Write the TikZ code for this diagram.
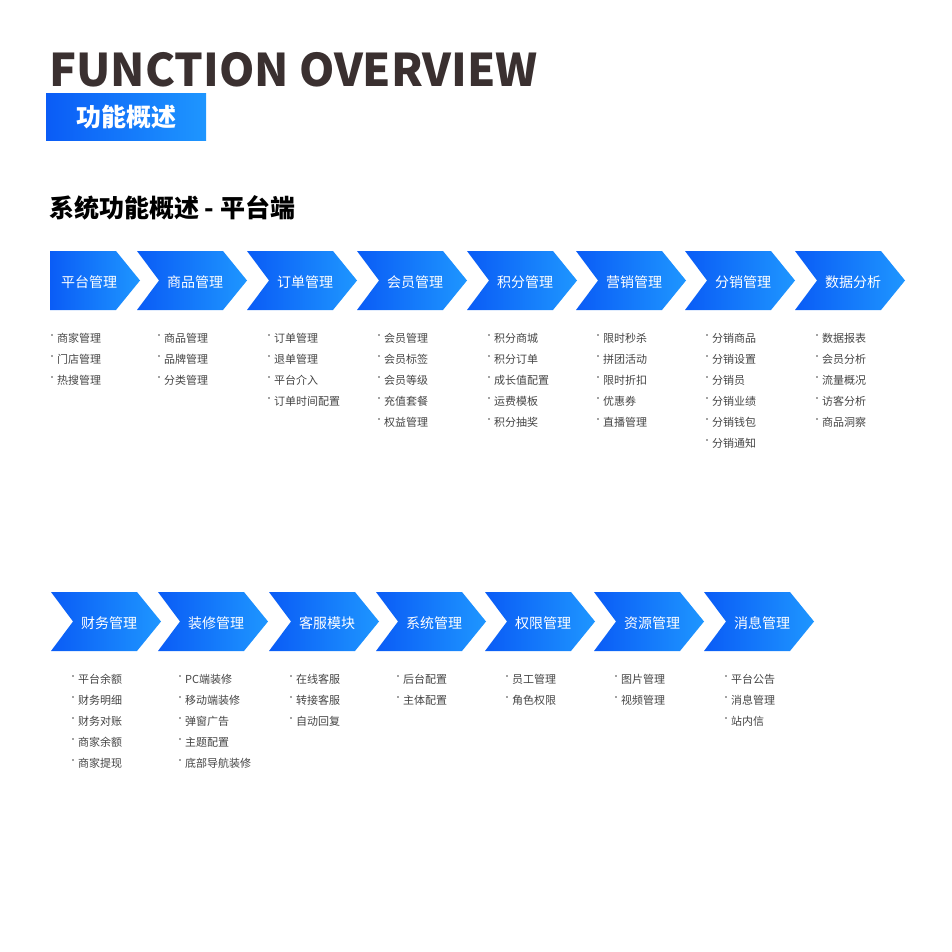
\documentclass[tikz,border=0pt]{standalone}
\usepackage{fontspec}
\setmainfont{Noto Sans CJK SC}
\usetikzlibrary{positioning}
\definecolor{chevdark}{HTML}{0A5CF6}
\definecolor{chevlight}{HTML}{1E96FF}
\definecolor{titlegray}{HTML}{3A3030}
\definecolor{itemgray}{HTML}{444444}
\tikzset{
  chev/.style={left color=chevdark, right color=chevlight, draw=none},
  chevlabel/.style={text=white, font=\fontsize{14}{14}\selectfont},
  item/.style={anchor=west, text=itemgray, inner sep=0pt, font=\fontsize{11}{11}\selectfont},
}
% chevron: #1 name, #2 left x, #3 top y, #4 label, list of items in #5
\newcommand{\chevbox}[5]{%
  \path[chev] (#2,#3) -- ++(86,0) -- ++(24,29.5) -- ++(-24,29.5) -- ++(-86,0) -- ++(22,-29.5) -- cycle;
  \node[chevlabel] (#1) at (#2+58,#3+31) {#4};
  \foreach \t [count=\i] in {#5} {
    \fill[itemgray] (#2+22,#3+63+21*\i) circle (0.9);
    \node[item] at (#2+27,#3+66.5+21*\i) {\t};
  }
}
\begin{document}
\begin{tikzpicture}[x=1pt,y=-1pt]
\useasboundingbox (0,0) rectangle (952,952);
% title
\node[anchor=base west, inner sep=0pt, text=titlegray, font=\fontsize{45}{45}\selectfont\bfseries] (title) at (49,87) {FUNCTION OVERVIEW};
\fill[left color=chevdark, right color=chevlight] (46,94) rectangle (206,141);
\node[text=white, font=\fontsize{25}{25}\selectfont\bfseries] (subtitle) at (126,117.5) {功能概述};
\node[anchor=base west, inner sep=0pt, font=\fontsize{25}{25}\selectfont\bfseries] (section) at (49,217) {系统功能概述 - 平台端};
% row 1, first chevron with flat left
\path[chev] (50,251) -- (116,251) -- (140,280.5) -- (116,310) -- (50,310) -- cycle;
\node[chevlabel] (pingtai) at (89,282) {平台管理};
\foreach \t [count=\i] in {商家管理,门店管理,热搜管理} {
  \fill[itemgray] (52,314+21*\i) circle (0.9);
  \node[item] at (57,317.5+21*\i) {\t};
}
\chevbox{shangpin}{137}{251}{商品管理}{商品管理,品牌管理,分类管理}
\chevbox{dingdan}{247}{251}{订单管理}{订单管理,退单管理,平台介入,订单时间配置}
\chevbox{huiyuan}{357}{251}{会员管理}{会员管理,会员标签,会员等级,充值套餐,权益管理}
\chevbox{jifen}{467}{251}{积分管理}{积分商城,积分订单,成长值配置,运费模板,积分抽奖}
\chevbox{yingxiao}{576}{251}{营销管理}{限时秒杀,拼团活动,限时折扣,优惠券,直播管理}
\chevbox{fenxiao}{685}{251}{分销管理}{分销商品,分销设置,分销员,分销业绩,分销钱包,分销通知}
\chevbox{shuju}{795}{251}{数据分析}{数据报表,会员分析,流量概况,访客分析,商品洞察}
% row 2
\chevbox{caiwu}{51}{592}{财务管理}{平台余额,财务明细,财务对账,商家余额,商家提现}
\chevbox{zhuangxiu}{158}{592}{装修管理}{PC端装修,移动端装修,弹窗广告,主题配置,底部导航装修}
\chevbox{kefu}{269}{592}{客服模块}{在线客服,转接客服,自动回复}
\chevbox{xitong}{376}{592}{系统管理}{后台配置,主体配置}
\chevbox{quanxian}{485}{592}{权限管理}{员工管理,角色权限}
\chevbox{ziyuan}{594}{592}{资源管理}{图片管理,视频管理}
\chevbox{xiaoxi}{704}{592}{消息管理}{平台公告,消息管理,站内信}
\end{tikzpicture}
\end{document}
